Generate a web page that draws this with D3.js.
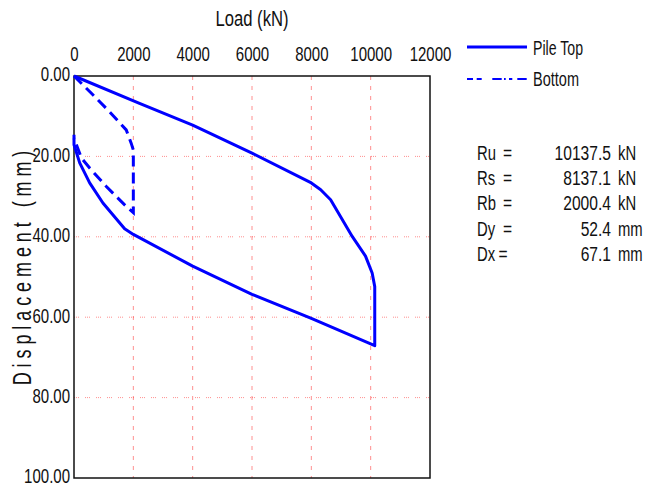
<!DOCTYPE html>
<html>
<head>
<meta charset="utf-8">
<script src="https://cdn.jsdelivr.net/npm/d3@7"></script>
<style>
  body { margin: 0; background: #fff; }
  svg text { font-family: "Liberation Sans", Arial, sans-serif; fill: #111; }
</style>
</head>
<body>
<svg id="chart" width="653" height="486"></svg>
<script>
// axis ticks
const loadTicks = [0, 2000, 4000, 6000, 8000, 10000, 12000];
const dispTicks = [0, 20, 40, 60, 80, 100];

// pile top: load, unload (kN, mm)
const topLoad = [0, 2208, 4000, 6000, 8000, 8316, 8650, 9378, 9826, 10050, 10137.5, 10137.5,
  8000, 6000, 4000, 2000, 1707, 975, 528, 192, 0, 0];
const topDisp = [0, 6.8, 12.2, 19.2, 26.6, 28.3, 30.8, 39.9, 44.8, 49.0, 52.4, 67.1,
  60.3, 54.3, 47.3, 39.4, 38.0, 31.6, 26.6, 21.6, 17.1, 14.6];

// pile bottom
const bottomLoad = [0, 586, 1186, 1760, 1927, 2000, 2000, 1700, 1090, 528, 250, 0];
const bottomDisp = [0, 4.3, 8.8, 13.4, 16.7, 18.4, 34.0, 32.0, 27.5, 22.9, 20.4, 15.5];

// results
const resLabels = ["Ru", "Rs", "Rb", "Dy", "Dx"];
const resValues = ["10137.5", "8137.1", "2000.4", "52.4", "67.1"];
const resUnits = ["kN", "kN", "kN", "mm", "mm"];

const svg = d3.select('#chart');
const m = { left: 74, top: 76, right: 430, bottom: 478 };

const x = d3.scaleLinear().domain([0, 12000]).range([m.left, m.right]);
const y = d3.scaleLinear().domain([0, 100]).range([m.top, m.bottom]);

// narrow-font look: squeeze glyphs horizontally
function squeeze(sel, k) {
  sel.each(function() {
    const w = this.getComputedTextLength();
    d3.select(this).attr('textLength', w * k).attr('lengthAdjust', 'spacingAndGlyphs');
  });
}

// Grid
const grid = svg.append('g');
grid.selectAll('line.gx')
  .data(loadTicks.filter(t => t > 0 && t < 12000))
  .join('line')
  .attr('x1', d => x(d)).attr('x2', d => x(d))
  .attr('y1', m.top).attr('y2', m.bottom)
  .attr('stroke', '#f44').attr('stroke-opacity', 0.6)
  .attr('stroke-dasharray', '4,6');
grid.selectAll('line.gy')
  .data(dispTicks.filter(t => t > 0 && t < 100))
  .join('line')
  .attr('y1', d => y(d)).attr('y2', d => y(d))
  .attr('x1', m.left).attr('x2', m.right)
  .attr('stroke', '#f44').attr('stroke-opacity', 0.6)
  .attr('stroke-dasharray', '1,1,1,1,1,6');

// Frame
svg.append('rect')
  .attr('x', m.left).attr('y', m.top)
  .attr('width', m.right - m.left).attr('height', m.bottom - m.top)
  .attr('fill', 'none').attr('stroke', '#111').attr('stroke-width', 1.5);

// Axes
const xAxis = svg.append('g')
  .attr('transform', `translate(0,${m.top - 15})`)
  .call(d3.axisTop(x).tickValues(loadTicks).tickSize(0).tickPadding(0).tickFormat(d3.format('d')));
xAxis.select('.domain').remove();
xAxis.selectAll('text').attr('font-size', 20).attr('fill', '#111').call(squeeze, 0.75);

const yAxis = svg.append('g')
  .attr('transform', `translate(${m.left - 4},-1.5)`)
  .call(d3.axisLeft(y).tickValues(dispTicks).tickSize(0).tickPadding(0).tickFormat(d3.format('.2f')));
yAxis.select('.domain').remove();
yAxis.selectAll('text').attr('font-size', 20).attr('fill', '#111').call(squeeze, 0.75);

// Titles
svg.append('text')
  .attr('x', 252).attr('y', 26)
  .attr('text-anchor', 'middle')
  .attr('font-size', 21.5)
  .attr('textLength', 73).attr('lengthAdjust', 'spacingAndGlyphs')
  .text('Load (kN)');

svg.append('text')
  .attr('transform', 'translate(31,268) rotate(-90) scale(0.72,1)')
  .attr('text-anchor', 'middle')
  .attr('font-size', 25)
  .attr('textLength', 326).attr('lengthAdjust', 'spacing')
  .text('Displacement (mm)');

// Curves
const line = d3.line().x(d => x(d[0])).y(d => y(d[1]));

svg.append('path')
  .datum(d3.zip(topLoad, topDisp))
  .attr('d', line)
  .attr('fill', 'none')
  .attr('stroke', '#0000ff')
  .attr('stroke-width', 3)
  .attr('stroke-linejoin', 'round');

svg.append('path')
  .datum(d3.zip(bottomLoad, bottomDisp))
  .attr('d', line)
  .attr('fill', 'none')
  .attr('stroke', '#0000ff')
  .attr('stroke-width', 3)
  .attr('stroke-dasharray', '11,6');

// Legend
const legend = svg.append('g');
legend.append('line')
  .attr('x1', 467).attr('x2', 527).attr('y1', 47).attr('y2', 47)
  .attr('stroke', '#0000ff').attr('stroke-width', 3);
legend.append('text').attr('x', 533).attr('y', 55).attr('font-size', 20)
  .attr('textLength', 50).attr('lengthAdjust', 'spacingAndGlyphs').text('Pile Top');
legend.append('line')
  .attr('x1', 467).attr('x2', 527).attr('y1', 79).attr('y2', 79)
  .attr('stroke', '#0000ff').attr('stroke-width', 2)
  .attr('stroke-dasharray', '6,3.7,5,10.6,9.4,2.3,1.7,3.3,3.3,5,9.4');
legend.append('text').attr('x', 533).attr('y', 86).attr('font-size', 20)
  .attr('textLength', 46).attr('lengthAdjust', 'spacingAndGlyphs').text('Bottom');

// Results
const res = svg.append('g');
resLabels.forEach((lab, i) => {
  const yy = 159.5 + i * 25.4;
  res.append('text').attr('x', 477).attr('y', yy).attr('font-size', 19.5)
    .text(lab).call(squeeze, 0.76);
  res.append('text').attr('x', i === 4 ? 498.5 : 503).attr('y', yy).attr('font-size', 19.5)
    .text('=').call(squeeze, 0.8);
  res.append('text').attr('x', 611).attr('y', yy).attr('font-size', 19.5)
    .attr('text-anchor', 'end').text(resValues[i]).call(squeeze, 0.8);
  res.append('text').attr('x', 618).attr('y', yy).attr('font-size', 19.5)
    .text(resUnits[i]).call(squeeze, 0.76);
});
</script>
</body>
</html>
